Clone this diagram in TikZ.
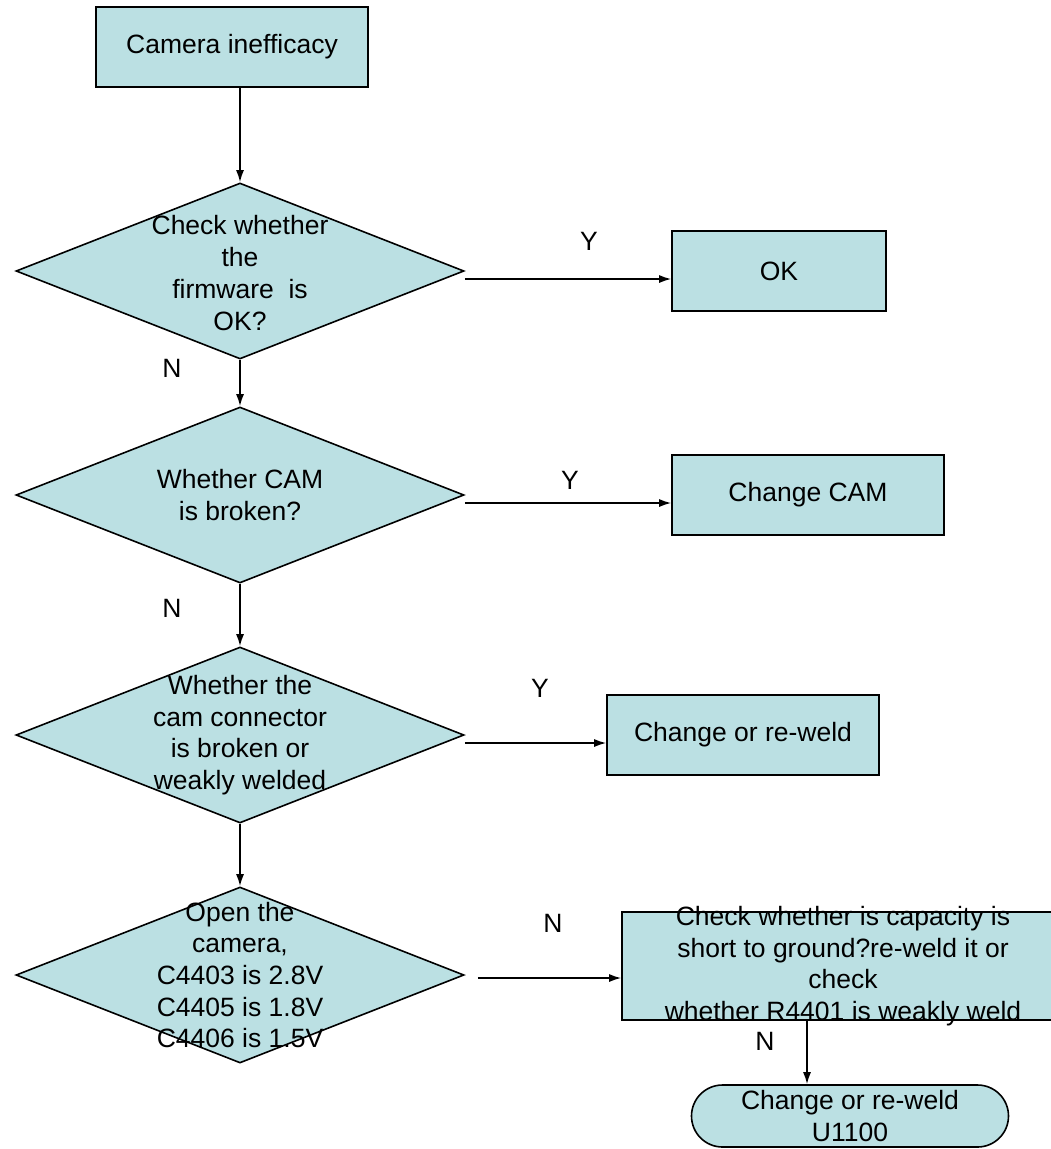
\documentclass[tikz,border=0pt]{standalone}
\usepackage{fontspec}
\setmainfont{Liberation Sans}
\usetikzlibrary{shapes.geometric,arrows.meta}
\definecolor{flowfill}{RGB}{187,224,227}

\begin{document}
\begin{tikzpicture}[x=1pt,y=-1pt,>={Latex[length=12pt,width=8pt]},line width=1.6pt,
		font=\fontsize{26.5}{31.7}\selectfont,
		box/.style={draw,fill=flowfill,inner sep=0,minimum height=80,align=center},
		decision/.style={diamond,draw,fill=flowfill,inner sep=0,minimum width=448,minimum height=176},
		dtext/.style={align=center,inner sep=0},
		term/.style={draw,fill=flowfill,rounded corners=31,inner sep=0,minimum width=317,minimum height=62,align=center},
		arr/.style={->}]
		\useasboundingbox (0,0) rectangle (1050,1149);

		% boxes and decisions
		\node [box,minimum width=272] (start) at (232,47) {Camera inefficacy};
		\node [decision] (dOne) at (240,271) {};
		\node [dtext] (tOne) at ([yshift=-2pt]dOne) {Check whether\\the\\firmware~ is\\OK?};
		\node [box,minimum width=214] (ok) at (779,271) {OK};
		\node [decision] (dTwo) at (240,495) {};
		\node [dtext] (tTwo) at (dTwo) {Whether CAM\\is broken?};
		\node [box,minimum width=272] (cam) at (808,495) {Change CAM};
		\node [decision] (dThree) at (240,735) {};
		\node [dtext] (tThree) at (dThree) {Whether the\\cam connector\\is broken or\\weakly welded};
		\node [box,minimum width=272] (weld) at (743,735) {Change or re-weld};
		\node [decision] (dFour) at (240,975) {};
		\node [dtext] (tFour) at (dFour) {Open the\\camera,\\C4403 is 2.8V\\C4405 is 1.8V\\C4406 is 1.5V};
		\node [box,minimum width=442,minimum height=108] (check) at (843,966) {};
		\node [dtext] (tCheck) at (check) {Check whether is capacity is\\short to ground?re-weld it or\\check\\whether R4401 is weakly weld};
		\node [term] (final) at (850,1116) {Change or re-weld\\U1100};

		% connectors
		\draw [arr] (start.south -| dOne.north) -- (dOne.north);
		\draw [arr] (dOne) -- (dTwo.north);
		\draw [arr] (dTwo) -- (dThree.north);
		\draw [arr] (dThree) -- (dFour.north);
		\draw [arr] ([yshift=-8pt]dOne.east) -- ([yshift=-8pt]ok.west);
		\draw [arr] ([yshift=-8pt]dTwo.east) -- ([yshift=-8pt]cam.west);
		\draw [arr] ([yshift=-8pt]dThree.east) -- ([yshift=-8pt]weld.west);
		\coordinate (nOut) at ([xshift=13pt,yshift=-3pt]dFour.east);
		\draw [arr] (nOut) -- (nOut -| check.west);
		\coordinate (cDown) at ([xshift=-36pt]check.south);
		\draw [arr] (cDown) -- (cDown |- final.north);

		% branch labels
		\path
		(589,241) node (yOne) {Y}
		(570,480) node (yTwo) {Y}
		(540,688) node (yThree) {Y}
		(172,368) node (nOne) {N}
		(172,608) node (nTwo) {N}
		(553,923) node (nThree) {N}
		(765,1041) node (nFour) {N};
\end{tikzpicture}
\end{document}
